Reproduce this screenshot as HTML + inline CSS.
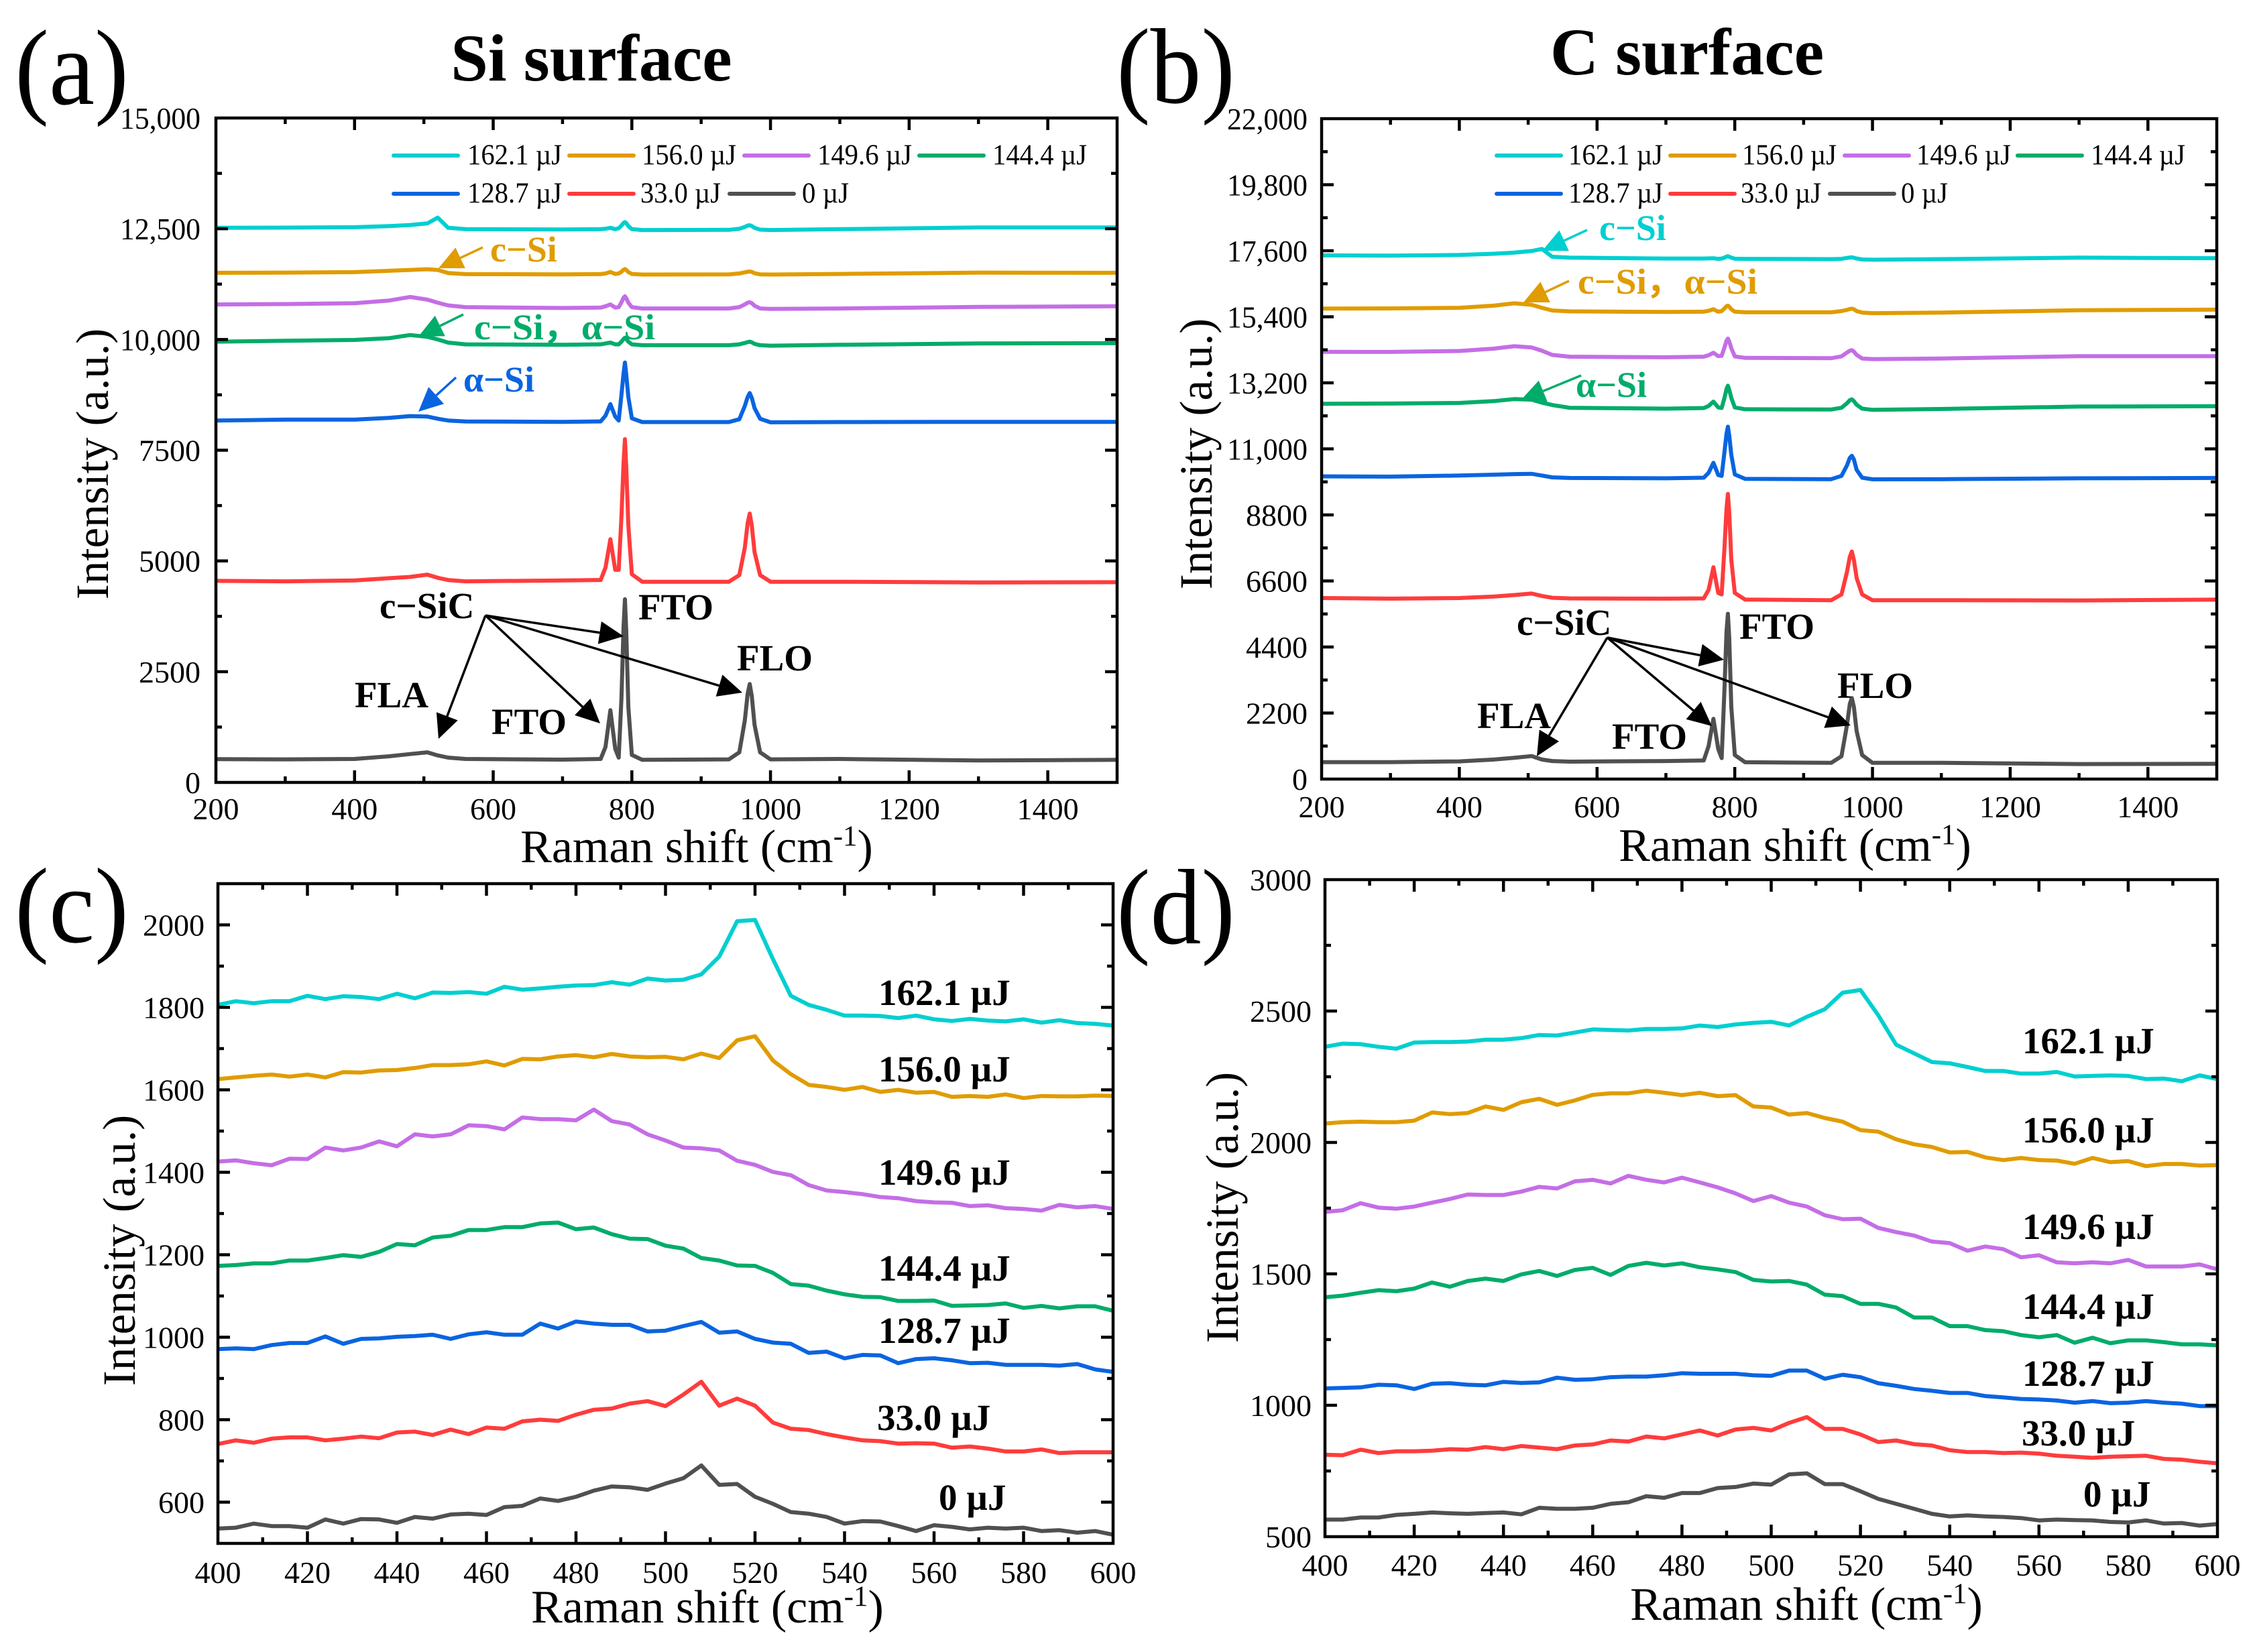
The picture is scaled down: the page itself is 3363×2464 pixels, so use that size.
<!DOCTYPE html>
<html lang="en">
<head>
<meta charset="utf-8">
<title>Raman spectra of Si and C surfaces</title>
<style>
html,body{margin:0;padding:0;background:#fff;width:3363px;height:2464px;overflow:hidden}
svg{display:block;font-family:"Liberation Serif","DejaVu Serif",serif}
</style>
</head>
<body>
<svg id="figure" xmlns="http://www.w3.org/2000/svg" width="3363" height="2464" viewBox="0 0 3363 2464"></svg>
<script>
const shiftsWide = [200,300,400,450,480,505,520,535,560,700,755,762,769,776,781,785,788,790,792,795,800,815,940,955,963,967,970,973,977,985,1000,1100,1300,1500];
const aGray = [525,520,530,590,640,680,610,560,530,515,530,800,1630,760,560,1900,3500,4135,3400,1700,620,510,520,680,1400,2000,2220,1950,1300,680,520,530,495,510];
const aRed = [4550,4540,4560,4610,4640,4690,4620,4570,4540,4560,4570,4850,5490,4800,4800,6000,7200,7750,7100,5800,4700,4530,4530,4680,5300,5850,6070,5800,5200,4680,4530,4530,4515,4520];
const aBlue = [8170,8190,8190,8230,8270,8260,8210,8170,8150,8140,8150,8280,8540,8260,8170,8750,9230,9480,9200,8700,8220,8135,8135,8200,8500,8700,8790,8680,8450,8210,8130,8135,8140,8140];
const aGreen = [9950,9970,9990,10030,10100,10060,10000,9930,9890,9880,9890,9910,9930,9890,9890,9950,10010,10040,10010,9950,9890,9870,9870,9890,9920,9940,9950,9935,9900,9870,9860,9880,9910,9915];
const aPurple = [10790,10800,10820,10880,10960,10900,10830,10770,10730,10710,10720,10750,10790,10720,10730,10840,10940,10975,10930,10830,10730,10700,10700,10730,10790,10830,10840,10820,10760,10700,10690,10700,10735,10750];
const aOrange = [11505,11510,11520,11550,11570,11585,11570,11500,11475,11470,11475,11490,11525,11480,11490,11530,11575,11590,11570,11520,11480,11465,11470,11490,11515,11530,11535,11525,11495,11470,11465,11480,11510,11505];
const aCyan = [12520,12525,12535,12560,12585,12620,12750,12520,12490,12485,12490,12500,12520,12490,12510,12570,12630,12650,12625,12560,12490,12470,12475,12500,12540,12570,12580,12560,12520,12480,12470,12490,12530,12530];

const bGray = [565,565,590,650,710,765,650,600,580,600,620,1100,2005,1000,700,3000,4900,5505,4700,2400,800,560,540,760,1800,2500,2700,2400,1600,800,540,540,500,510];
const bRed = [6030,6010,6030,6080,6130,6180,6100,6040,6020,6010,6020,6300,7055,6200,6150,7700,9000,9500,8900,7300,6200,5980,5960,6150,6900,7400,7580,7300,6700,6150,5960,5960,5950,5980];
const bBlue = [10085,10075,10110,10140,10160,10170,10110,10050,10030,10020,10040,10200,10535,10130,10100,10900,11500,11740,11450,10800,10150,10000,9990,10100,10450,10700,10770,10650,10300,10040,9985,9990,10020,10030];
const bGreen = [12500,12510,12530,12590,12660,12640,12540,12460,12370,12340,12360,12430,12575,12380,12360,12700,12990,13105,12970,12700,12380,12320,12310,12370,12520,12620,12650,12590,12470,12340,12300,12330,12410,12420];
const bPurple = [14235,14230,14260,14340,14420,14380,14270,14130,14070,14050,14070,14120,14200,14090,14100,14380,14600,14675,14580,14350,14080,14030,14020,14080,14210,14270,14290,14240,14130,14010,13990,14010,14090,14090];
const bOrange = [15675,15680,15700,15770,15850,15800,15700,15610,15580,15560,15570,15600,15650,15570,15590,15680,15750,15770,15740,15650,15570,15550,15550,15590,15630,15660,15670,15650,15590,15540,15520,15540,15620,15640];
const bCyan = [17445,17440,17460,17500,17540,17590,17660,17400,17370,17340,17340,17345,17350,17330,17340,17370,17405,17420,17400,17370,17335,17330,17320,17330,17360,17375,17380,17365,17340,17310,17300,17320,17370,17350];

const shiftsZoom = [400,404,408,412,416,420,424,428,432,436,440,444,448,452,456,460,464,468,472,476,480,484,488,492,496,500,504,508,512,516,520,524,528,532,536,540,544,548,552,556,560,564,568,572,576,580,584,588,592,596,600];

const cCyan = [1806,1815,1810,1815,1815,1828,1820,1827,1825,1820,
1833,1822,1836,1835,1837,1833,1850,1843,1846,1850,
1853,1854,1861,1855,1870,1865,1867,1880,1923,2009,
2012,1917,1828,1806,1794,1780,1780,1779,1774,1780,
1771,1767,1772,1768,1766,1771,1763,1769,1762,1760,1756];
const cOrange = [1626,1630,1634,1637,1632,1637,1630,1643,1642,1647,
1648,1653,1660,1660,1662,1669,1659,1675,1674,1681,
1684,1679,1687,1681,1679,1680,1674,1688,1677,1720,
1730,1671,1638,1612,1607,1600,1607,1595,1600,1593,
1595,1583,1585,1583,1589,1580,1585,1584,1584,1586,1585];
const cPurple = [1426,1429,1422,1417,1433,1432,1460,1453,1460,1475,
1463,1492,1487,1492,1514,1512,1504,1533,1529,1529,
1526,1552,1524,1516,1492,1477,1460,1458,1453,1428,
1418,1401,1393,1369,1356,1352,1347,1340,1337,1330,
1327,1326,1318,1320,1313,1311,1307,1321,1315,1318,1311];
const cGreen = [1173,1175,1179,1179,1186,1186,1192,1199,1195,1207,
1226,1223,1242,1246,1260,1260,1267,1267,1276,1278,
1262,1266,1250,1239,1238,1222,1215,1192,1186,1174,
1173,1156,1129,1125,1113,1104,1098,1097,1088,1088,
1089,1076,1077,1078,1082,1071,1076,1070,1075,1075,1064];
const cBlue = [971,973,971,981,986,986,1002,984,996,997,
1001,1003,1006,996,1007,1012,1006,1006,1033,1021,
1038,1033,1030,1030,1014,1016,1027,1037,1011,1014,
996,987,984,962,965,949,957,956,937,947,
949,944,937,938,933,933,933,931,935,922,916];
const cRed = [741,750,744,754,757,757,750,754,759,755,
769,771,763,776,765,781,778,796,800,797,
812,824,827,839,845,833,861,892,834,851,
834,793,778,775,765,757,750,748,742,743,
742,732,735,730,723,723,728,719,721,721,721];
const cGray = [536,538,548,542,542,538,558,548,559,558,
550,564,560,570,572,569,588,591,609,603,
613,628,638,636,630,645,658,689,642,644,
613,596,576,572,564,548,554,553,542,530,
544,540,534,538,536,538,530,532,526,530,521];

const dCyan = [2364,2376,2374,2364,2357,2380,2382,2382,2384,2391,
2391,2397,2409,2407,2418,2430,2428,2426,2432,2432,
2434,2445,2439,2449,2455,2459,2445,2478,2507,2570,
2580,2484,2372,2339,2306,2301,2287,2272,2272,2262,
2262,2268,2251,2253,2255,2253,2241,2243,2233,2255,2241];
const dOrange = [2072,2077,2079,2077,2077,2083,2114,2108,2112,2137,
2124,2153,2166,2143,2160,2181,2187,2187,2197,2189,
2180,2189,2176,2180,2137,2133,2106,2112,2093,2079,
2047,2041,2012,1993,1983,1962,1964,1943,1933,1941,
1933,1931,1919,1941,1925,1929,1910,1918,1918,1912,1914];
const dPurple = [1736,1742,1769,1752,1748,1756,1771,1785,1802,1800,
1800,1813,1831,1825,1852,1858,1844,1873,1858,1848,
1866,1848,1829,1806,1777,1796,1771,1756,1723,1708,
1710,1675,1659,1646,1623,1617,1588,1604,1594,1563,
1571,1544,1540,1544,1540,1553,1528,1528,1528,1536,1517];
const dGreen = [1411,1417,1428,1438,1434,1444,1467,1451,1473,1482,
1473,1498,1511,1492,1515,1523,1496,1530,1542,1532,
1540,1525,1517,1507,1477,1471,1473,1459,1421,1415,
1386,1386,1372,1334,1334,1301,1301,1286,1282,1267,
1259,1267,1238,1257,1236,1247,1247,1240,1232,1232,1228];
const dBlue = [1064,1066,1068,1078,1076,1062,1082,1084,1078,1076,
1089,1085,1087,1105,1097,1099,1107,1109,1109,1114,
1122,1120,1120,1120,1114,1112,1132,1132,1101,1116,
1107,1084,1074,1062,1055,1047,1047,1035,1030,1024,
1022,1018,1010,1016,1008,1010,1016,1010,1006,997,997];
const dRed = [812,810,831,818,825,825,827,833,831,841,
833,845,839,833,847,851,866,862,881,874,
889,904,885,908,914,904,933,955,910,910,
889,860,866,852,847,829,822,822,818,820,
816,808,804,800,804,806,808,796,793,785,779];
const dGray = [565,565,573,573,583,587,592,589,587,590,
592,585,610,606,606,610,625,631,654,648,
666,666,685,689,702,698,737,741,700,700,
673,644,625,606,587,577,581,577,575,571,
562,565,563,562,556,554,562,550,552,542,548];

const seriesNames = ['0 µJ','33.0 µJ','128.7 µJ','144.4 µJ','149.6 µJ','156.0 µJ','162.1 µJ'];
const seriesColors = ['#505050','#ff3c3c','#0a64e0','#00ac6a','#c46ee6','#e09c00','#00cfd0'];

const xTicksWide = [200,400,600,800,1000,1200,1400];
const xTicksZoom = [400,420,440,460,480,500,520,540,560,580,600];
const yTicksA = [0,2500,5000,7500,10000,12500,15000];
const yLabelsA = ['0','2500','5000','7500','10,000','12,500','15,000'];
const yTicksB = [0,2200,4400,6600,8800,11000,13200,15400,17600,19800,22000];
const yLabelsB = ['0','2200','4400','6600','8800','11,000','13,200','15,400','17,600','19,800','22,000'];
const yTicksC = [600,800,1000,1200,1400,1600,1800,2000];
const yLabelsC = ['600','800','1000','1200','1400','1600','1800','2000'];
const yTicksD = [500,1000,1500,2000,2500,3000];
const yLabelsD = ['500','1000','1500','2000','2500','3000'];

const svg = document.getElementById('figure');
const NS = 'http://www.w3.org/2000/svg';

function mk(tag, attrs, parent, name) {
  const el = document.createElementNS(NS, tag);
  for (const k in attrs) el.setAttribute(k, attrs[k]);
  
  
  parent.appendChild(el);
  return el;
}
function txt(str, x, y, size, opts, parent, name) {
  const o = opts || {};
  const a = {x: x, y: y, 'font-size': size, fill: o.fill || '#000'};
  if (o.bold) a['font-weight'] = 'bold';
  if (o.anchor) a['text-anchor'] = o.anchor;
  if (o.transform) a.transform = o.transform;
  if (o.len) { a.textLength = o.len; a.lengthAdjust = 'spacingAndGlyphs'; }
  const t = mk('text', a, parent, name);
  t.textContent = str;
  return t;
}
function scale(d0, d1, r0, r1) {
  return function (v) { return r0 + (v - d0) / (d1 - d0) * (r1 - r0); };
}
function arrow(x1, y1, x2, y2, color, parent, name) {
  const dx = x2 - x1, dy = y2 - y1, L = Math.hypot(dx, dy), ux = dx / L, uy = dy / L;
  const hl = 36, hw = 17;
  const bx = x2 - ux * hl, by = y2 - uy * hl;
  const g = mk('g', {}, parent, name);
  mk('line', {x1: x1, y1: y1, x2: bx, y2: by, stroke: color, 'stroke-width': 3.5}, g, name + '-shaft');
  mk('polygon', {points: x2 + ',' + y2 + ' ' + (bx - uy * hw) + ',' + (by + ux * hw) + ' ' + (bx + uy * hw) + ',' + (by - ux * hw), fill: color}, g, name + '-head');
}

function drawPanel(p) {
  const g = mk('g', {}, svg, 'panel-' + p.id);
  const X = scale(p.xDom[0], p.xDom[1], p.left, p.right);
  const Y = scale(p.yDom[0], p.yDom[1], p.bottom, p.top);
  const clipId = 'clip-' + p.id;
  const defs = mk('defs', {}, g, 'clip-defs-' + p.id);
  const clip = mk('clipPath', {id: clipId}, defs, 'plot-clip-' + p.id);
  mk('rect', {x: p.left, y: p.top, width: p.right - p.left, height: p.bottom - p.top}, clip, 'plot-clip-rect-' + p.id);

  const sg = mk('g', {'clip-path': 'url(#' + clipId + ')'}, g, 'series-group-' + p.id);
  p.series.forEach(function (vals, i) {
    const pts = vals.map(function (v, j) { return X(p.shifts[j]).toFixed(1) + ',' + Y(v).toFixed(1); }).join(' ');
    mk('polyline', {points: pts, fill: 'none', stroke: seriesColors[i], 'stroke-width': 6, 'stroke-linejoin': 'round', 'stroke-linecap': 'round'}, sg, 'series-' + seriesNames[i].replace(/[ .µ]/g, '') + '-' + p.id);
  });

  const ax = mk('g', {stroke: '#000', 'stroke-width': 4.5}, g, 'axes-' + p.id);
  const xStep = p.xTicks[1] - p.xTicks[0], yStep = p.yTicks[1] - p.yTicks[0];
  for (let v = p.xDom[0]; v <= p.xDom[1]; v += xStep / 2) {
    const major = p.xTicks.indexOf(v) >= 0, len = major ? 18 : 9, x = X(v);
    if (v === p.xDom[0] || v === p.xDom[1]) continue;
    mk('line', {x1: x, x2: x, y1: p.bottom, y2: p.bottom - len}, ax, 'x-tick-bottom');
    mk('line', {x1: x, x2: x, y1: p.top, y2: p.top + len}, ax, 'x-tick-top');
  }
  for (let v = p.yDom[0]; v <= p.yDom[1]; v += yStep / 2) {
    const major = p.yTicks.indexOf(v) >= 0, len = major ? 18 : 9, y = Y(v);
    if (v === p.yDom[0] || v === p.yDom[1]) continue;
    mk('line', {x1: p.left, x2: p.left + len, y1: y, y2: y}, ax, 'y-tick-left');
    mk('line', {x1: p.right, x2: p.right - len, y1: y, y2: y}, ax, 'y-tick-right');
  }
  mk('rect', {x: p.left, y: p.top, width: p.right - p.left, height: p.bottom - p.top, fill: 'none'}, ax, 'plot-frame-' + p.id);

  p.xTicks.forEach(function (v) {
    txt(String(v), X(v), p.xLabelY, 46, {anchor: 'middle'}, g, 'x-tick-label');
  });
  p.yTicks.forEach(function (v, i) {
    txt(p.yLabels[i], p.yLabelX, Y(v) + 16, 46, {anchor: 'end', len: p.yLabels[i].length > 4 ? 120 : null}, g, 'y-tick-label');
  });

  const xt = txt('Raman shift (cm', p.xTitle[0], p.xTitle[1], 70, {anchor: 'middle'}, g, 'x-axis-title');
  const sup = mk('tspan', {dy: -25, 'font-size': 43}, xt, 'x-axis-title-superscript');
  sup.textContent = '-1';
  const cl = mk('tspan', {dy: 25}, xt, 'x-axis-title-close');
  cl.textContent = ')';
  txt('Intensity (a.u.)', p.yTitle[0], p.yTitle[1], 69, {anchor: 'middle', transform: 'rotate(-90 ' + p.yTitle[0] + ' ' + p.yTitle[1] + ')'}, g, 'y-axis-title');
  txt(p.tag, p.tagPos[0], p.tagPos[1], 160, {len: p.tagLen}, g, 'panel-label-' + p.id);
}

function legend(rowY, entries, parent) {
  const g = mk('g', {}, parent, 'legend');
  entries.forEach(function (e) {
    const y = rowY[e[0]], i = seriesNames.indexOf(e[1]);
    const item = mk('g', {}, g, 'legend-entry');
    mk('line', {x1: e[2], x2: e[2] + 96, y1: y, y2: y, stroke: seriesColors[i], 'stroke-width': 6, 'stroke-linecap': 'round'}, item, 'legend-swatch');
    const n = e[1].length;
    txt(e[1], e[3], y + 13, 43, {len: n > 7 ? 141 : (n > 4 ? 120 : 70)}, item, 'legend-label');
  });
}

drawPanel({id: 'a', tag: '(a)', tagPos: [22, 155], tagLen: 170, left: 322, right: 1666, top: 176, bottom: 1167, xDom: [200, 1500], yDom: [0, 15000], shifts: shiftsWide,
  series: [aGray, aRed, aBlue, aGreen, aPurple, aOrange, aCyan], xTicks: xTicksWide, yTicks: yTicksA, yLabels: yLabelsA, xLabelY: 1222, yLabelX: 299, xTitle: [1039, 1286], yTitle: [161, 692]});
drawPanel({id: 'b', tag: '(b)', tagPos: [1665, 153], tagLen: 177, left: 1971, right: 3306, top: 177, bottom: 1162, xDom: [200, 1500], yDom: [0, 22000], shifts: shiftsWide,
  series: [bGray, bRed, bBlue, bGreen, bPurple, bOrange, bCyan], xTicks: xTicksWide, yTicks: yTicksB, yLabels: yLabelsB, xLabelY: 1219, yLabelX: 1950, xTitle: [2677, 1284], yTitle: [1807, 677]});
drawPanel({id: 'c', tag: '(c)', tagPos: [22, 1405], tagLen: 170, left: 325, right: 1660, top: 1318, bottom: 2302, xDom: [400, 600], yDom: [500, 2100], shifts: shiftsZoom,
  series: [cGray, cRed, cBlue, cGreen, cPurple, cOrange, cCyan], xTicks: xTicksZoom, yTicks: yTicksC, yLabels: yLabelsC, xLabelY: 2361, yLabelX: 305, xTitle: [1055, 2420], yTitle: [201, 1865]});
drawPanel({id: 'd', tag: '(d)', tagPos: [1665, 1407], tagLen: 177, left: 1976, right: 3307, top: 1312, bottom: 2292, xDom: [400, 600], yDom: [500, 3000], shifts: shiftsZoom,
  series: [dGray, dRed, dBlue, dGreen, dPurple, dOrange, dCyan], xTicks: xTicksZoom, yTicks: yTicksD, yLabels: yLabelsD, xLabelY: 2350, yLabelX: 1956, xTitle: [2694, 2416], yTitle: [1846, 1801]});

txt('Si surface', 882, 120, 100, {bold: true, anchor: 'middle'}, svg, 'title-si-surface');
txt('C surface', 2516, 111, 100, {bold: true, anchor: 'middle'}, svg, 'title-c-surface');

legend([232, 289], [
  [0, '162.1 µJ', 587, 697], [0, '156.0 µJ', 849, 957], [0, '149.6 µJ', 1110, 1219], [0, '144.4 µJ', 1371, 1480],
  [1, '128.7 µJ', 587, 697], [1, '33.0 µJ', 849, 955], [1, '0 µJ', 1088, 1196]
], svg);
legend([232, 289], [
  [0, '162.1 µJ', 2232, 2339], [0, '156.0 µJ', 2491, 2598], [0, '149.6 µJ', 2751, 2858], [0, '144.4 µJ', 3009, 3118],
  [1, '128.7 µJ', 2232, 2339], [1, '33.0 µJ', 2491, 2596], [1, '0 µJ', 2729, 2835]
], svg);

const ann = mk('g', {}, svg, 'annotations');
const cOr = seriesColors[5], cGr = seriesColors[3], cBl = seriesColors[2], cCy = seriesColors[6];
txt('c\u2212Si', 731, 390, 54, {bold: true, fill: cOr}, ann, 'annotation-c-si');
txt('c\u2212Si\uFF0C\u03B1\u2212Si', 707, 506, 54, {bold: true, fill: cGr, len: 270}, ann, 'annotation-c-si-a-si');
txt('\u03B1\u2212Si', 691, 584, 54, {bold: true, fill: cBl}, ann, 'annotation-a-si');
arrow(720, 369, 654, 400, cOr, ann, 'arrow-c-si');
arrow(691, 469, 624, 502, cGr, ann, 'arrow-c-si-a-si');
arrow(680, 563, 624, 614, cBl, ann, 'arrow-a-si');

txt('c\u2212SiC', 566, 922, 55, {bold: true}, ann, 'annotation-c-sic');
txt('FTO', 952, 924, 55, {bold: true}, ann, 'annotation-fto-upper');
txt('FLO', 1099, 1000, 55, {bold: true}, ann, 'annotation-flo');
txt('FLA', 529, 1055, 55, {bold: true}, ann, 'annotation-fla');
txt('FTO', 733, 1095, 55, {bold: true}, ann, 'annotation-fto-lower');
arrow(724, 918, 930, 949, '#000', ann, 'arrow-fto-upper');
arrow(724, 918, 1107, 1033, '#000', ann, 'arrow-flo');
arrow(724, 918, 895, 1079, '#000', ann, 'arrow-fto-lower');
arrow(724, 918, 654, 1102, '#000', ann, 'arrow-fla');

txt('c\u2212Si', 2385, 358, 54, {bold: true, fill: cCy}, ann, 'annotation-c-si-b');
txt('c\u2212Si\uFF0C\u03B1\u2212Si', 2353, 438, 54, {bold: true, fill: cOr, len: 268}, ann, 'annotation-c-si-a-si-b');
txt('\u03B1\u2212Si', 2350, 592, 54, {bold: true, fill: cGr}, ann, 'annotation-a-si-b');
arrow(2367, 343, 2300, 374, cCy, ann, 'arrow-c-si-b');
arrow(2340, 419, 2272, 451, cOr, ann, 'arrow-c-si-a-si-b');
arrow(2358, 560, 2268, 597, cGr, ann, 'arrow-a-si-b');

txt('c\u2212SiC', 2262, 947, 55, {bold: true}, ann, 'annotation-c-sic-b');
txt('FTO', 2594, 953, 55, {bold: true}, ann, 'annotation-fto-upper-b');
txt('FLO', 2740, 1041, 55, {bold: true}, ann, 'annotation-flo-b');
txt('FLA', 2203, 1086, 55, {bold: true}, ann, 'annotation-fla-b');
txt('FTO', 2404, 1117, 55, {bold: true}, ann, 'annotation-fto-lower-b');
arrow(2397, 951, 2571, 984, '#000', ann, 'arrow-fto-upper-b');
arrow(2397, 951, 2760, 1082, '#000', ann, 'arrow-flo-b');
arrow(2397, 951, 2553, 1083, '#000', ann, 'arrow-fto-lower-b');
arrow(2397, 951, 2292, 1128, '#000', ann, 'arrow-fla-b');

const labelFont = 55;
[['162.1 µJ',1310,1499],['156.0 µJ',1310,1613],['149.6 µJ',1310,1767],['144.4 µJ',1310,1910],['128.7 µJ',1310,2003],['33.0 µJ',1308,2133],['0 µJ',1400,2252]].forEach(function (r) {
  txt(r[0], r[1], r[2], labelFont, {bold: true}, ann, 'series-label-c');
});
[['162.1 µJ',3016,1571],['156.0 µJ',3016,1704],['149.6 µJ',3016,1848],['144.4 µJ',3016,1967],['128.7 µJ',3016,2067],['33.0 µJ',3015,2156],['0 µJ',3107,2247]].forEach(function (r) {
  txt(r[0], r[1], r[2], labelFont, {bold: true}, ann, 'series-label-d');
});
</script>
</body>
</html>
